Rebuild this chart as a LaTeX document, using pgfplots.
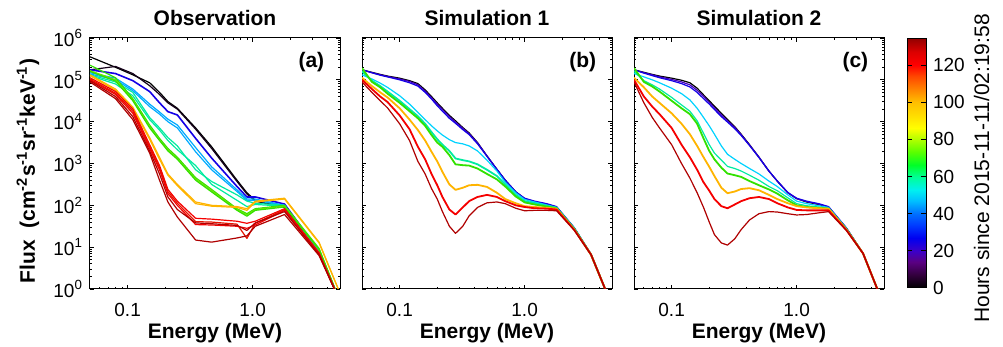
\documentclass[border=0pt]{standalone}
\usepackage{fontspec}
\setmainfont{Liberation Sans}
\usepackage{pgfplots}
\pgfplotsset{compat=1.18}
\usepackage{pgfplotstable}

\definecolor{cK0}{RGB}{0,0,0}
\definecolor{cK1}{RGB}{20,0,25}
\definecolor{cInd}{RGB}{70,0,190}
\definecolor{cBl}{RGB}{20,0,230}
\definecolor{cLb}{RGB}{0,170,255}
\definecolor{cCy}{RGB}{0,210,255}
\definecolor{cAq}{RGB}{0,235,160}
\definecolor{cG}{RGB}{50,225,0}
\definecolor{cGb}{RGB}{110,230,0}
\definecolor{cO}{RGB}{255,180,0}
\definecolor{cR}{RGB}{245,0,0}
\definecolor{cRb}{RGB}{230,20,0}
\definecolor{cDr}{RGB}{175,0,0}

% log10 of flux
\pgfplotstableread{
E    k0   k1   bl   lbA  lbB  aqA  aqB  gA   gB   gC   oA   oB   rA   rB   rC   drA  drB
0.05 5.55 5.24 5.24 5.17 5.14 5.12 5.10 5.35 5.22 5.20 5.12 5.10 5.05 5.02 5.00 4.95 4.98
0.08 5.30 5.32 5.15 5.04 5.00 4.95 4.90 5.05 5.00 4.97 4.78 4.75 4.72 4.68 4.65 4.55 4.60
0.11 5.12 5.15 4.98 4.78 4.74 4.70 4.62 4.55 4.52 4.50 4.35 4.32 4.30 4.25 4.20 4.05 4.12
0.15 4.93 4.86 4.72 4.42 4.36 4.10 4.05 3.92 3.88 3.85 3.62 3.58 3.45 3.40 3.36 3.25 3.30
0.18 4.70 4.65 4.45 4.23 4.18 3.85 3.80 3.60 3.56 3.55 3.15 3.10 2.95 2.90 2.85 2.60 2.75
0.21 4.48 4.45 4.24 4.06 4.00 3.62 3.55 3.36 3.33 3.30 2.75 2.72 2.38 2.33 2.28 2.08 2.20
0.25 4.32 4.30 4.16 3.92 3.85 3.42 3.33 3.15 3.12 3.10 2.50 2.47 2.10 2.05 2.00 1.72 1.90
0.35 3.85 3.82 3.60 3.38 3.28 2.85 2.95 2.66 2.63 2.60 2.08 2.04 1.69 1.61 1.54 1.17 1.58
0.47 3.40 3.36 3.13 2.92 2.85 2.57 2.50 2.38 2.35 2.32 2.00 1.98 1.67 1.60 1.53 1.12 1.56
0.75 2.60 2.57 2.45 2.37 2.33 2.25 2.12 1.92 1.90 1.88 1.97 1.95 1.62 1.55 1.50 1.22 1.52
0.90 2.30 2.27 2.20 2.15 2.12 2.10 1.97 1.80 1.77 1.74 1.92 1.88 1.57 1.21 1.45 1.27 1.40
1.05 2.12 2.10 2.20 2.15 2.12 2.05 2.02 1.92 1.90 1.88 2.10 2.08 1.62 1.57 1.53 1.50 1.58
1.80 1.97 1.95 2.03 2.00 1.99 2.00 1.98 2.00 1.98 1.96 2.17 2.15 1.92 1.90 1.88 1.78 1.85
3.40 0.85 0.85 0.90 0.92 0.90 0.93 0.92 0.97 0.95 0.95 1.12 1.10 0.87 0.85 0.84 0.80 0.82
5.00 -0.3 -0.3 -0.3 -0.3 -0.3 -0.3 -0.3 -0.3 -0.3 -0.3 -0.1 -0.1 -0.3 -0.3 -0.3 -0.3 -0.3
}\obs

\pgfplotstableread{
E    k0   ind  bl   cy   aq   g    o    r    dr
0.05 5.24 5.24 5.24 5.12 5.20 5.28 5.05 5.00 4.95
0.06 5.18 5.17 5.17 5.02 4.98 4.95 4.85 4.78 4.70
0.07 5.13 5.12 5.11 4.92 4.85 4.82 4.70 4.60 4.50
0.08 5.09 5.08 5.07 4.82 4.72 4.67 4.58 4.47 4.33
0.10 5.04 5.02 5.00 4.62 4.50 4.45 4.32 4.15 3.95
0.12 4.98 4.96 4.93 4.42 4.30 4.25 4.05 3.82 3.55
0.14 4.91 4.88 4.85 4.22 4.13 4.08 3.80 3.40 3.05
0.16 4.76 4.73 4.70 4.05 3.95 3.90 3.55 3.10 2.75
0.18 4.60 4.57 4.54 3.90 3.75 3.68 3.28 2.75 2.40
0.20 4.45 4.42 4.38 3.78 3.58 3.50 3.05 2.48 2.15
0.22 4.32 4.29 4.25 3.68 3.45 3.40 2.80 2.20 1.85
0.25 4.15 4.12 4.08 3.57 3.30 3.20 2.50 1.90 1.50
0.28 4.02 3.99 3.96 3.50 3.12 2.98 2.37 1.78 1.33
0.32 3.86 3.84 3.81 3.47 3.08 2.96 2.42 1.95 1.50
0.36 3.73 3.71 3.69 3.42 3.05 2.95 2.48 2.10 1.75
0.42 3.50 3.49 3.47 3.30 2.98 2.88 2.49 2.20 1.95
0.50 3.18 3.18 3.17 3.08 2.85 2.75 2.44 2.25 2.06
0.60 2.86 2.86 2.86 2.82 2.70 2.62 2.30 2.20 2.08
0.70 2.60 2.60 2.60 2.55 2.50 2.45 2.15 2.10 2.04
0.85 2.32 2.32 2.32 2.30 2.25 2.21 2.05 2.00 1.93
1.00 2.16 2.16 2.17 2.14 2.10 2.07 1.98 1.96 1.87
1.20 2.08 2.09 2.10 2.08 2.05 2.02 1.96 1.93 1.88
1.50 2.02 2.03 2.04 2.01 1.99 1.97 1.94 1.92 1.88
1.80 1.95 1.96 1.97 1.95 1.94 1.93 1.92 1.90 1.87
2.50 1.45 1.46 1.46 1.45 1.44 1.43 1.42 1.41 1.40
3.40 0.82 0.83 0.83 0.82 0.82 0.82 0.82 0.82 0.82
5.00 -0.4 -0.4 -0.4 -0.4 -0.4 -0.4 -0.4 -0.4 -0.4
}\simA

\pgfplotstableread{
E    k0   ind  bl   cy   aq   g    o    r    dr
0.05 5.24 5.24 5.24 5.15 5.20 5.28 5.05 5.00 4.95
0.06 5.18 5.17 5.16 5.07 4.98 4.95 4.82 4.60 4.45
0.07 5.13 5.12 5.10 5.00 4.88 4.84 4.60 4.36 4.10
0.08 5.09 5.07 5.05 4.93 4.78 4.72 4.45 4.18 3.85
0.10 5.04 5.01 4.98 4.80 4.58 4.50 4.20 3.85 3.45
0.12 4.99 4.95 4.91 4.67 4.40 4.32 3.95 3.45 3.00
0.14 4.93 4.88 4.83 4.52 4.25 4.18 3.70 3.15 2.65
0.16 4.80 4.75 4.70 4.32 4.02 3.95 3.42 2.85 2.30
0.18 4.64 4.60 4.55 4.10 3.72 3.60 3.15 2.55 1.95
0.20 4.50 4.46 4.42 3.90 3.45 3.30 2.92 2.35 1.60
0.22 4.37 4.33 4.29 3.70 3.25 3.10 2.70 2.15 1.30
0.25 4.20 4.16 4.12 3.42 3.08 2.90 2.42 1.98 1.10
0.28 4.05 4.02 3.99 3.22 2.93 2.76 2.29 1.93 1.05
0.32 3.88 3.86 3.83 3.10 2.88 2.72 2.33 2.02 1.20
0.36 3.70 3.69 3.67 3.00 2.82 2.68 2.39 2.10 1.42
0.42 3.45 3.44 3.43 2.88 2.72 2.58 2.41 2.17 1.65
0.50 3.15 3.15 3.14 2.75 2.60 2.48 2.36 2.20 1.80
0.60 2.82 2.82 2.82 2.58 2.45 2.38 2.25 2.15 1.85
0.70 2.58 2.58 2.58 2.45 2.35 2.28 2.15 2.05 1.84
0.85 2.30 2.30 2.31 2.25 2.18 2.12 2.05 1.95 1.80
1.00 2.16 2.16 2.17 2.10 2.04 2.00 1.98 1.89 1.77
1.20 2.08 2.09 2.10 2.04 1.99 1.96 1.95 1.88 1.78
1.50 2.02 2.03 2.04 1.99 1.96 1.94 1.93 1.88 1.82
1.80 1.95 1.96 1.97 1.95 1.93 1.92 1.92 1.88 1.85
2.50 1.45 1.46 1.46 1.45 1.44 1.43 1.42 1.41 1.40
3.40 0.85 0.85 0.85 0.85 0.85 0.85 0.85 0.85 0.85
5.00 -0.4 -0.4 -0.4 -0.4 -0.4 -0.4 -0.4 -0.4 -0.4
}\simB

\pgfplotsset{
  colormap={idl}{rgb255(0pt)=(0,0,0); rgb255(7pt)=(50,0,60); rgb255(14pt)=(90,0,130);
    rgb255(20pt)=(60,0,200); rgb255(27pt)=(0,0,240); rgb255(34pt)=(0,60,255);
    rgb255(40pt)=(0,110,255); rgb255(47pt)=(0,190,255); rgb255(53pt)=(0,240,240);
    rgb255(60pt)=(0,255,150); rgb255(66pt)=(0,255,40); rgb255(73pt)=(90,255,0);
    rgb255(80pt)=(180,255,0); rgb255(86pt)=(255,255,0); rgb255(93pt)=(255,220,0);
    rgb255(100pt)=(255,190,0); rgb255(107pt)=(255,130,0); rgb255(114pt)=(255,70,0);
    rgb255(120pt)=(255,0,0); rgb255(127pt)=(220,0,0); rgb255(134pt)=(150,0,0)}
}

\newcommand{\tfont}{\fontsize{9.5}{11}\selectfont}
\newcommand{\bfont}{\bfseries\fontsize{10.5}{12}\selectfont}

\begin{document}
\begin{tikzpicture}
\useasboundingbox (0,0) rectangle (501.5pt,173.5pt);

% ---------- Panel (a) ----------
\begin{axis}[
  xmode=log, ymode=log, scale only axis, width=125pt, height=125.5pt,
  xmin=0.05, xmax=5, ymin=1, ymax=1e6,
  xtick={0.1,1}, xticklabels={0.1,1.0},
  minor xtick={0.06,0.07,0.08,0.09,0.2,0.3,0.4,0.5,0.6,0.7,0.8,0.9,2,3,4},
  ytick={1,10,100,1000,10000,100000,1000000},
  minor ytick={2,3,4,5,6,7,8,9,20,30,40,50,60,70,80,90,200,300,400,500,600,700,800,900,2000,3000,4000,5000,6000,7000,8000,9000,20000,30000,40000,50000,60000,70000,80000,90000,200000,300000,400000,500000,600000,700000,800000,900000},
  tick align=inside, tick pos=both, xticklabel pos=left, yticklabel pos=left,
  major tick length=2.1pt, minor tick length=1.1pt,
  tick style={black, line width=0.4pt},
  axis line style={line width=0.5pt},
  tick label style={font=\tfont},
  xticklabel style={yshift=-3.5pt},
  xlabel={Energy (MeV)},
  xlabel style={font=\bfont, at={(axis description cs:0.5,-0.196)}, anchor=base},
  title style={font=\bfont, at={(axis description cs:0.5,1)}, anchor=base, yshift=0pt},
  every axis plot/.append style={line width=0.6pt, line join=round},
  at={(45pt,29pt)}, anchor=south west,
  title={Observation},
  yticklabels={10\textsuperscript{0},10\textsuperscript{1},10\textsuperscript{2},10\textsuperscript{3},10\textsuperscript{4},10\textsuperscript{5},10\textsuperscript{6}},
  ylabel={Flux\ \ (cm\textsuperscript{-2}s\textsuperscript{-1}sr\textsuperscript{-1}keV\textsuperscript{-1})},
  ylabel style={font=\bfont, at={(axis description cs:-0.248,0.47)}, anchor=center},
]
\addplot[cK0] table[x=E, y expr=10^(\thisrow{k0})]{\obs};
\addplot[cK1] table[x=E, y expr=10^(\thisrow{k1})]{\obs};
\addplot[cBl, line width=0.8pt] table[x=E, y expr=10^(\thisrow{bl})]{\obs};
\addplot[cLb] table[x=E, y expr=10^(\thisrow{lbA})]{\obs};
\addplot[cLb] table[x=E, y expr=10^(\thisrow{lbB})]{\obs};
\addplot[cAq] table[x=E, y expr=10^(\thisrow{aqA})]{\obs};
\addplot[cAq] table[x=E, y expr=10^(\thisrow{aqB})]{\obs};
\addplot[cG] table[x=E, y expr=10^(\thisrow{gA})]{\obs};
\addplot[cGb] table[x=E, y expr=10^(\thisrow{gB})]{\obs};
\addplot[cG] table[x=E, y expr=10^(\thisrow{gC})]{\obs};
\addplot[cO] table[x=E, y expr=10^(\thisrow{oA})]{\obs};
\addplot[cO] table[x=E, y expr=10^(\thisrow{oB})]{\obs};
\addplot[cR] table[x=E, y expr=10^(\thisrow{rA})]{\obs};
\addplot[cRb] table[x=E, y expr=10^(\thisrow{rB})]{\obs};
\addplot[cR] table[x=E, y expr=10^(\thisrow{rC})]{\obs};
\addplot[cDr] table[x=E, y expr=10^(\thisrow{drA})]{\obs};
\addplot[cDr] table[x=E, y expr=10^(\thisrow{drB})]{\obs};
\node[anchor=east, font=\bfont] at (rel axis cs:0.965,0.905) {(a)};
\end{axis}

% ---------- Panel (b) ----------
\begin{axis}[
  xmode=log, ymode=log, scale only axis, width=125pt, height=125.5pt,
  xmin=0.05, xmax=5, ymin=1, ymax=1e6,
  xtick={0.1,1}, xticklabels={0.1,1.0},
  minor xtick={0.06,0.07,0.08,0.09,0.2,0.3,0.4,0.5,0.6,0.7,0.8,0.9,2,3,4},
  ytick={1,10,100,1000,10000,100000,1000000}, yticklabels={},
  minor ytick={2,3,4,5,6,7,8,9,20,30,40,50,60,70,80,90,200,300,400,500,600,700,800,900,2000,3000,4000,5000,6000,7000,8000,9000,20000,30000,40000,50000,60000,70000,80000,90000,200000,300000,400000,500000,600000,700000,800000,900000},
  tick align=inside, tick pos=both, xticklabel pos=left, yticklabel pos=left,
  major tick length=2.1pt, minor tick length=1.1pt,
  tick style={black, line width=0.4pt},
  axis line style={line width=0.5pt},
  tick label style={font=\tfont},
  xticklabel style={yshift=-3.5pt},
  xlabel={Energy (MeV)},
  xlabel style={font=\bfont, at={(axis description cs:0.5,-0.196)}, anchor=base},
  title style={font=\bfont, at={(axis description cs:0.5,1)}, anchor=base, yshift=0pt},
  every axis plot/.append style={line width=0.6pt, line join=round},
  at={(181pt,29pt)}, anchor=south west,
  title={Simulation 1},
]
\addplot[cK0] table[x=E, y expr=10^(\thisrow{k0})]{\simA};
\addplot[cInd] table[x=E, y expr=10^(\thisrow{ind})]{\simA};
\addplot[cBl] table[x=E, y expr=10^(\thisrow{bl})]{\simA};
\addplot[cCy] table[x=E, y expr=10^(\thisrow{cy})]{\simA};
\addplot[cAq, line width=0.9pt] table[x=E, y expr=10^(\thisrow{aq})]{\simA};
\addplot[cG, line width=0.9pt] table[x=E, y expr=10^(\thisrow{g})]{\simA};
\addplot[cO, line width=0.9pt] table[x=E, y expr=10^(\thisrow{o})]{\simA};
\addplot[cR, line width=0.9pt] table[x=E, y expr=10^(\thisrow{r})]{\simA};
\addplot[cDr] table[x=E, y expr=10^(\thisrow{dr})]{\simA};
\node[anchor=east, font=\bfont] at (rel axis cs:0.965,0.905) {(b)};
\end{axis}

% ---------- Panel (c) ----------
\begin{axis}[
  xmode=log, ymode=log, scale only axis, width=125pt, height=125.5pt,
  xmin=0.05, xmax=5, ymin=1, ymax=1e6,
  xtick={0.1,1}, xticklabels={0.1,1.0},
  minor xtick={0.06,0.07,0.08,0.09,0.2,0.3,0.4,0.5,0.6,0.7,0.8,0.9,2,3,4},
  ytick={1,10,100,1000,10000,100000,1000000}, yticklabels={},
  minor ytick={2,3,4,5,6,7,8,9,20,30,40,50,60,70,80,90,200,300,400,500,600,700,800,900,2000,3000,4000,5000,6000,7000,8000,9000,20000,30000,40000,50000,60000,70000,80000,90000,200000,300000,400000,500000,600000,700000,800000,900000},
  tick align=inside, tick pos=both, xticklabel pos=left, yticklabel pos=left,
  major tick length=2.1pt, minor tick length=1.1pt,
  tick style={black, line width=0.4pt},
  axis line style={line width=0.5pt},
  tick label style={font=\tfont},
  xticklabel style={yshift=-3.5pt},
  xlabel={Energy (MeV)},
  xlabel style={font=\bfont, at={(axis description cs:0.5,-0.196)}, anchor=base},
  title style={font=\bfont, at={(axis description cs:0.5,1)}, anchor=base, yshift=0pt},
  every axis plot/.append style={line width=0.6pt, line join=round},
  at={(317pt,29pt)}, anchor=south west,
  title={Simulation 2},
]
\addplot[cK0] table[x=E, y expr=10^(\thisrow{k0})]{\simB};
\addplot[cInd] table[x=E, y expr=10^(\thisrow{ind})]{\simB};
\addplot[cBl] table[x=E, y expr=10^(\thisrow{bl})]{\simB};
\addplot[cCy] table[x=E, y expr=10^(\thisrow{cy})]{\simB};
\addplot[cAq] table[x=E, y expr=10^(\thisrow{aq})]{\simB};
\addplot[cG, line width=0.9pt] table[x=E, y expr=10^(\thisrow{g})]{\simB};
\addplot[cO, line width=0.9pt] table[x=E, y expr=10^(\thisrow{o})]{\simB};
\addplot[cR, line width=0.9pt] table[x=E, y expr=10^(\thisrow{r})]{\simB};
\addplot[cDr] table[x=E, y expr=10^(\thisrow{dr})]{\simB};
\node[anchor=east, font=\bfont] at (rel axis cs:0.965,0.905) {(c)};
\end{axis}

% ---------- Colour bar ----------
\begin{axis}[at={(453.5pt,29.5pt)}, anchor=south west, scale only axis,
  width=9.5pt, height=124.5pt,
  xmin=0, xmax=1, ymin=0, ymax=134,
  xtick=\empty, ytick={0,20,40,60,80,100,120},
  tick align=inside, ytick pos=both, yticklabel pos=right,
  major tick length=2.5pt,
  tick style={black, line width=0.5pt},
  axis line style={line width=0.5pt},
  axis on top,
  yticklabel style={font=\tfont, /pgf/number format/assume math mode=true},
  ylabel={Hours since 2015-11-11/02:19:58},
  ylabel style={font=\fontsize{10.5}{12}\selectfont, at={(axis description cs:3.93,0.48)}, anchor=center},
  colormap name=idl, point meta min=0, point meta max=134,
]
\addplot[surf, shader=interp, point meta=y, mesh/cols=2, mesh/ordering=x varies] coordinates {
(0,0) (1,0) (0,7) (1,7) (0,14) (1,14) (0,20) (1,20) (0,27) (1,27) (0,34) (1,34)
(0,40) (1,40) (0,47) (1,47) (0,53) (1,53) (0,60) (1,60) (0,66) (1,66) (0,73) (1,73)
(0,80) (1,80) (0,86) (1,86) (0,93) (1,93) (0,100) (1,100) (0,107) (1,107) (0,114) (1,114)
(0,120) (1,120) (0,127) (1,127) (0,134) (1,134)};
\end{axis}
\end{tikzpicture}
\end{document}
